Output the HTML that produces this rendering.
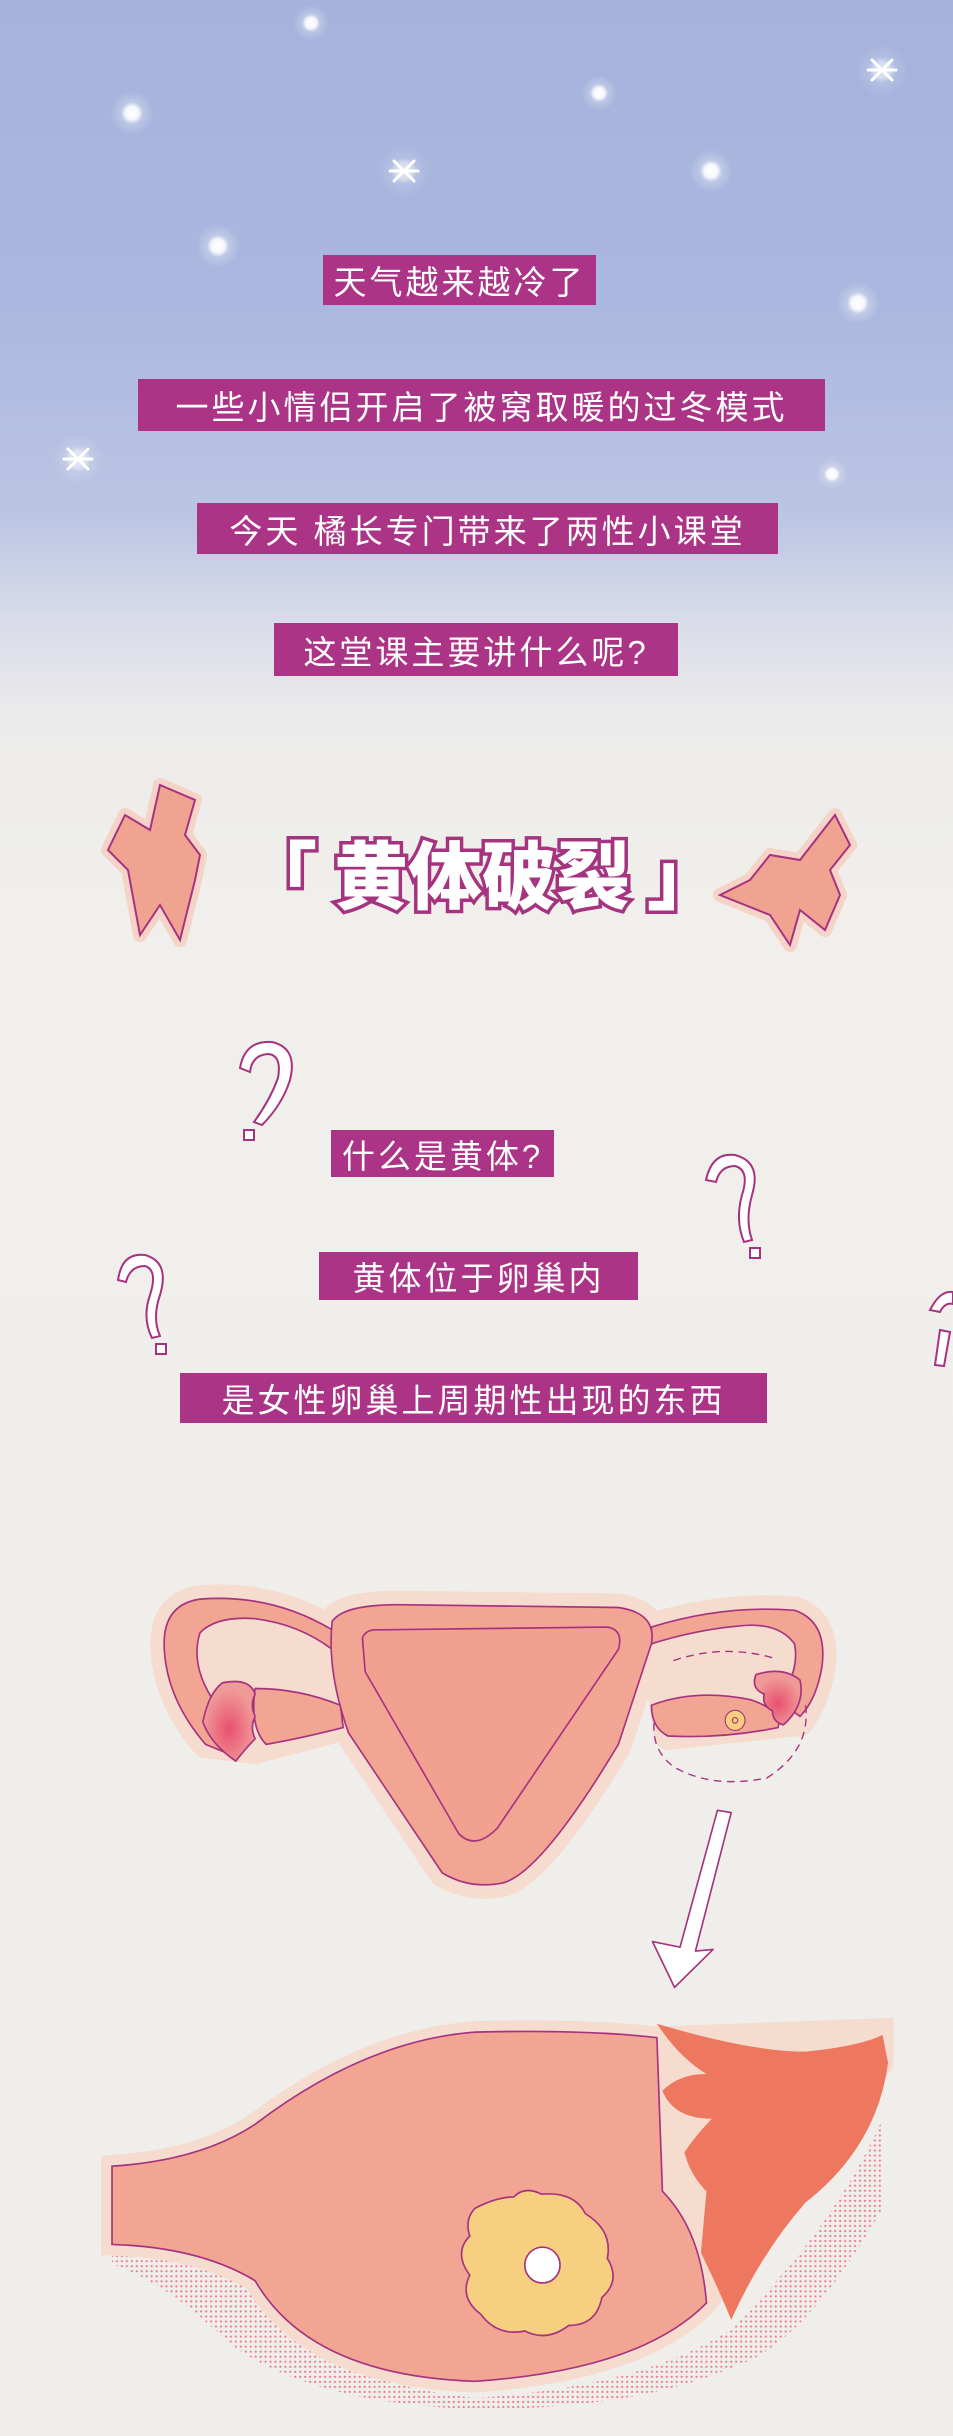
<!DOCTYPE html>
<html><head><meta charset="utf-8">
<style>
html,body{margin:0;padding:0}
body{width:953px;height:2436px;position:relative;overflow:hidden;
background:linear-gradient(180deg,#a5b3dc 0px,#aab8df 300px,#bcc5e3 520px,#d9dce9 620px,#ecebeb 720px,#f0efeb 900px,#efeeea 2436px);
font-family:"Liberation Sans","Noto Sans CJK SC",sans-serif}
.box{position:absolute;background:#ab3486;color:#fff;display:flex;align-items:center;justify-content:center;font-size:33px;letter-spacing:3px;white-space:nowrap}
svg{position:absolute;left:0;top:0}
.title{position:absolute;left:222px;top:818px;width:520px;text-align:center;font-size:74px;font-weight:900;color:#fff;-webkit-text-stroke:7px #a6337f;paint-order:stroke fill;letter-spacing:0px;font-family:"Noto Sans CJK SC",sans-serif;white-space:nowrap}
</style></head><body>
<svg width="953" height="2436">
<defs>
<radialGradient id="glow"><stop offset="0" stop-color="#fff" stop-opacity="1"/><stop offset="0.3" stop-color="#fff" stop-opacity="0.9"/><stop offset="0.5" stop-color="#fff" stop-opacity="0.25"/><stop offset="1" stop-color="#fff" stop-opacity="0"/></radialGradient>
<pattern id="dots" width="9" height="9" patternUnits="userSpaceOnUse"><circle cx="4" cy="4" r="2" fill="#ee5a78"/></pattern>
<radialGradient id="fimb" cx="0.5" cy="0.6"><stop offset="0" stop-color="#e8506e"/><stop offset="1" stop-color="#f09a98"/></radialGradient>
</defs>
<g>
<circle cx="132" cy="113" r="22" fill="url(#glow)"/>
<circle cx="218" cy="246" r="22" fill="url(#glow)"/>
<circle cx="311" cy="23" r="18" fill="url(#glow)"/>
<circle cx="599" cy="93" r="18" fill="url(#glow)"/>
<circle cx="711" cy="171" r="22" fill="url(#glow)"/>
<circle cx="858" cy="303" r="22" fill="url(#glow)"/>
<circle cx="832" cy="474" r="16" fill="url(#glow)"/>
<circle cx="404" cy="171" r="26" fill="url(#glow)" opacity="0.6"/>
<circle cx="882" cy="70" r="26" fill="url(#glow)" opacity="0.6"/>
<circle cx="78" cy="459" r="26" fill="url(#glow)" opacity="0.6"/>
<g stroke="#fff" stroke-width="3" stroke-linecap="round">
<path d="M394,161 L414,181 M414,161 L394,181 M390,171 L418,171"/>
<path d="M872,60 L892,80 M892,60 L872,80 M868,70 L896,70"/>
<path d="M68,449 L88,469 M88,449 L68,469 M64,459 L92,459"/>
</g>
</g>
<g>
<polygon points="160,785 150,830 125,815 108,850 128,870 140,935 160,905 180,940 195,880 200,855 185,835 195,800" fill="#f1a392" stroke="#f6d3c7" stroke-width="14" stroke-linejoin="round"/>
<polygon points="160,785 150,830 125,815 108,850 128,870 140,935 160,905 180,940 195,880 200,855 185,835 195,800" fill="#f1a392" stroke="#a6337f" stroke-width="2"/>
</g>
<g>
<polygon points="835,815 800,860 770,855 750,880 720,895 770,915 790,945 800,910 825,930 840,895 830,870 850,845" fill="#f1a392" stroke="#f6d3c7" stroke-width="14" stroke-linejoin="round"/>
<polygon points="835,815 800,860 770,855 750,880 720,895 770,915 790,945 800,910 825,930 840,895 830,870 850,845" fill="#f1a392" stroke="#a6337f" stroke-width="2"/>
</g>
<g fill="#fff" stroke="#a6337f" stroke-width="2">
<path d="M240,1068 Q245,1040 272,1042 Q298,1048 290,1080 Q282,1105 262,1125 L254,1122 Q270,1100 278,1078 Q282,1055 268,1054 Q252,1055 250,1072 Z"/>
<rect x="244" y="1130" width="10" height="10"/>
<path d="M706,1180 Q712,1152 735,1155 Q762,1162 752,1195 Q745,1220 752,1240 L744,1242 Q735,1220 742,1195 Q750,1170 735,1166 Q720,1166 716,1182 Z"/>
<rect x="750" y="1248" width="10" height="10"/>
<path d="M118,1280 Q122,1252 145,1255 Q170,1262 160,1295 Q152,1318 160,1336 L152,1338 Q142,1318 150,1295 Q158,1270 145,1266 Q130,1266 126,1282 Z"/>
<rect x="156" y="1344" width="10" height="10"/>
<path d="M930,1310 Q940,1290 953,1292 L953,1304 Q945,1302 940,1312 Z"/>
<path d="M940,1330 L935,1365 L944,1366 L950,1332 Z"/>
</g>
<g transform="translate(90,1560) scale(0.5504,0.5587)">
<g fill="#f5dccf" stroke="#f5dccf" stroke-width="50" stroke-linejoin="round">
<path d="M440,110 Q460,80 560,80 L960,85 Q1030,95 1020,150 L960,330 Q820,560 750,578 Q690,590 640,560 L470,310 Q430,200 440,110 Z"/>
<path d="M440,125 Q330,60 200,70 Q130,80 135,160 Q140,250 210,330 L300,340 L455,300 Z"/>
<path d="M1020,120 Q1150,80 1280,90 Q1340,110 1330,190 Q1320,250 1290,290 L1050,315 Z"/>
</g>
<g stroke="#a6337f" stroke-width="3" stroke-linejoin="round">
<path d="M440,125 Q330,60 200,70 Q130,80 135,160 Q140,250 210,330 L260,350 Q260,300 230,260 Q180,190 200,130 Q230,100 300,105 Q380,115 440,160 Z" fill="#f3a593"/>
<path d="M1020,120 Q1150,80 1280,90 Q1340,110 1330,190 Q1320,250 1290,280 L1250,250 Q1290,200 1280,150 Q1250,110 1180,118 Q1100,125 1020,150 Z" fill="#f3a593"/>
<path d="M300,230 Q380,230 455,260 L460,300 Q380,320 320,330 Q290,300 300,230Z" fill="#f3a593"/>
<path d="M1020,260 Q1100,230 1200,250 Q1260,270 1250,300 Q1150,320 1050,315 Q1020,300 1020,260Z" fill="#f3a593"/>
<path d="M240,220 Q290,210 300,240 Q290,260 300,280 Q290,300 300,320 Q280,340 265,360 Q220,330 205,290 Q215,240 240,220Z" fill="url(#fimb)"/>
<path d="M1210,205 Q1260,190 1290,215 Q1300,260 1260,295 Q1240,290 1240,270 Q1220,260 1225,240 Q1200,230 1210,205Z" fill="url(#fimb)"/>
<path d="M440,110 Q460,80 560,80 L960,85 Q1030,95 1020,150 L960,330 Q820,560 750,578 Q690,590 640,560 L470,310 Q430,200 440,110 Z" fill="#f3a593"/>
<path d="M495,140 Q500,125 520,125 L940,120 Q970,125 960,160 L740,480 Q700,520 670,490 L500,200 Z" fill="#f2a08f"/>
</g>
<circle cx="1172" cy="287" r="18" fill="#f7cf7e" stroke="#a6337f" stroke-width="2"/>
<circle cx="1172" cy="287" r="5" fill="#f7cf7e" stroke="#a6337f" stroke-width="2"/>
<path d="M1060,180 Q1150,150 1240,175 M1300,260 Q1310,340 1230,390 Q1130,410 1060,370 Q1020,340 1025,290" fill="none" stroke="#a6337f" stroke-width="2.5" stroke-dasharray="14,10"/>
<polygon points="1140,448 1165,452 1100,700 1132,697 1062,765 1022,683 1072,693" fill="#fff" stroke="#a6337f" stroke-width="3" stroke-linejoin="round"/>
</g>
<g transform="translate(90,1560) scale(0.5504,0.5587)">
<path d="M40,1210 Q200,1220 300,1290 Q400,1470 700,1500 Q1000,1480 1160,1380 Q1350,1200 1440,1000 L1440,1160 Q1300,1400 1180,1440 Q1000,1520 700,1520 Q400,1510 250,1400 Q150,1300 40,1260 Z" fill="url(#dots)" opacity="0.8"/>
<path d="M40,1085 Q200,1075 300,1010 Q500,860 700,845 Q900,840 1030,855 L1440,840 L1440,900 L1120,1330 Q1000,1450 700,1470 Q400,1460 300,1290 Q200,1230 40,1225 Z" fill="#f5dccf" stroke="#f5dccf" stroke-width="40"/>
<path d="M40,1085 Q200,1075 300,1010 Q500,860 700,845 Q900,840 1030,855 L1040,1130 Q1110,1200 1120,1330 Q1000,1450 700,1470 Q400,1460 300,1290 Q200,1230 40,1225 Z" fill="#f3a593" stroke="#a6337f" stroke-width="3"/>
<path d="M1030,830 Q1200,880 1300,880 Q1400,870 1440,850 L1450,900 Q1430,1050 1300,1150 Q1220,1240 1165,1360 Q1140,1300 1110,1240 L1120,1130 Q1090,1100 1080,1060 Q1100,1030 1130,1000 Q1060,1000 1040,950 Q1070,920 1120,920 Q1070,890 1030,830Z" fill="#ee7760"/>
<path d="M700,1160 Q740,1140 770,1140 Q790,1120 820,1135 Q880,1130 900,1170 Q950,1200 940,1250 Q965,1290 930,1320 Q920,1370 870,1370 Q830,1400 790,1380 Q740,1390 710,1350 Q670,1320 690,1280 Q660,1240 690,1210 Q680,1180 700,1160Z" fill="#f6cf80" stroke="#a6337f" stroke-width="3"/>
<circle cx="822" cy="1262" r="32" fill="#fff" stroke="#a6337f" stroke-width="3"/>
</g>
</svg>

<div class="box" style="left:323px;top:255px;width:273px;height:50px">天气越来越冷了</div>
<div class="box" style="left:138px;top:379px;width:687px;height:52px">一些小情侣开启了被窝取暖的过冬模式</div>
<div class="box" style="left:197px;top:503px;width:581px;height:51px">今天 橘长专门带来了两性小课堂</div>
<div class="box" style="left:274px;top:623px;width:404px;height:53px">这堂课主要讲什么呢?</div>

<div class="title">「 黄体破裂 」</div>

<div class="box" style="left:331px;top:1130px;width:223px;height:47px">什么是黄体?</div>
<div class="box" style="left:319px;top:1252px;width:319px;height:48px">黄体位于卵巢内</div>
<div class="box" style="left:180px;top:1373px;width:587px;height:50px">是女性卵巢上周期性出现的东西</div>
</body></html>
